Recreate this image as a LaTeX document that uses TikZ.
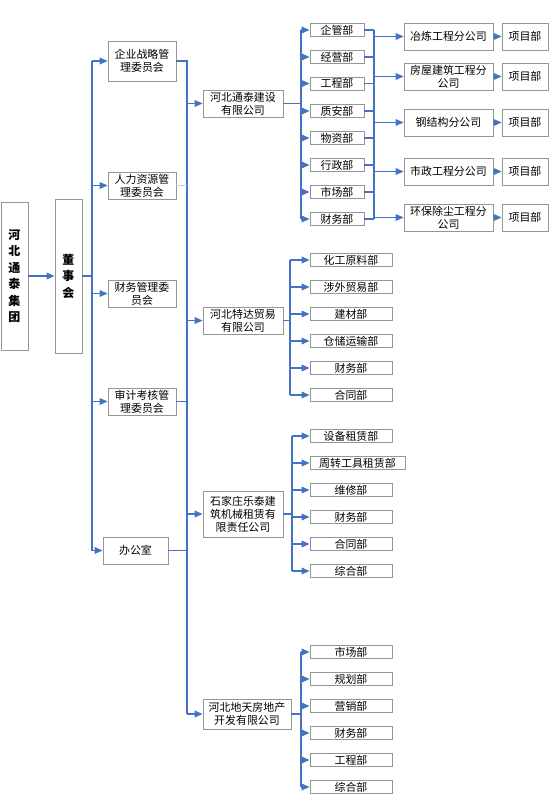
\documentclass[tikz,border=0pt]{standalone}
\usepackage{fontspec}
\setmainfont{Noto Sans CJK SC}
\usepackage{tikz}
\usetikzlibrary{calc, positioning, arrows.meta}
\usepackage{xcolor}
\definecolor{linkblue}{RGB}{68,114,196}
\definecolor{boxgrey}{RGB}{150,150,150}
\tikzset{
    orgbox/.style={draw=boxgrey, line width=0.6pt, fill=white, inner sep=0pt, align=center, font=\fontsize{8.2}{9.8}\selectfont},
    vertbox/.style={orgbox, minimum width=20.25pt, font=\fontsize{9}{12.4}\selectfont\bfseries},
    combox/.style={orgbox, minimum width=51pt, minimum height=20.25pt},
    compbox/.style={orgbox, minimum width=60pt, minimum height=20.25pt},
    subbox/.style={orgbox, minimum width=66.75pt, minimum height=20.25pt},
    projbox/.style={orgbox, minimum width=34.5pt, minimum height=20.25pt},
    deptbox/.style={orgbox, minimum width=61.5pt, minimum height=9.75pt},
    linkline/.style={draw=linkblue, line width=1pt},
    linkarrow/.style={linkline, -{Triangle[length=6pt,width=5pt]}},
    faintline/.style={draw=linkblue!35, line width=0.6pt}
}
\begin{document}
\begin{tikzpicture}[x=0.75pt,y=-0.75pt]
            \useasboundingbox (0,0) rectangle (554,804);
            % group and board
            \node[vertbox, minimum height=111pt] (grp) at (14.5,276) {河\\北\\通\\泰\\集\\团};
            \node[vertbox, minimum height=115.5pt] (board) at (68.5,276) {董\\事\\会};
            \draw[linkarrow] (grp) -- (board);
            % committees
            \node[combox, minimum height=30pt] (c1) at (142,61) {企业战略管\\理委员会};
            \node[combox] (c2) at (142,185.5) {人力资源管\\理委员会};
            \node[combox] (c3) at (142,293.5) {财务管理委\\员会};
            \node[combox] (c4) at (142,401.5) {审计考核管\\理委员会};
            \node[combox, minimum width=48.75pt] (c5) at (135.5,550.5) {办公室};
            \coordinate (j1) at (92,276);
            \draw[linkline] (board) -- (j1);
            \draw[linkline] (c1.west -| j1) -- (c5.west -| j1);
            \draw[linkarrow] (c1.west -| j1) -- (c1.west);
            \draw[linkarrow] (c2.west -| j1) -- (c2.west);
            \draw[linkarrow] (c3.west -| j1) -- (c3.west);
            \draw[linkarrow] (c4.west -| j1) -- (c4.west);
            \draw[linkarrow] (c5.west -| j1) -- (c5.west);
            % companies
            \node[compbox] (co1) at (243,103.5) {河北通泰建设\\有限公司};
            \node[compbox] (co2) at (243,320.5) {河北特达贸易\\有限公司};
            \node[compbox, minimum height=34.5pt] (co3) at (243,514) {石家庄乐泰建\\筑机械租赁有\\限责任公司};
            \node[compbox, minimum width=66pt, minimum height=22.5pt] (co4) at (247,714) {河北地天房地产\\开发有限公司};
            \coordinate (j2) at (187,0);
            \draw[linkline] (c1.east) -- (c1.east -| j2) -- (co4.west -| j2);
            \draw[faintline] (c2.east) -- (c2.east -| j2);
            \draw[linkline] (c4.east) -- (c4.east -| j2);
            \draw[linkline] (c5.east) -- (c5.east -| j2);
            \draw[linkarrow] (co1.west -| j2) -- (co1.west);
            \draw[linkarrow] (co2.west -| j2) -- (co2.west);
            \draw[linkarrow] (co3.west -| j2) -- (co3.west);
            \draw[linkarrow] (co4.west -| j2) -- (co4.west);
            % departments of co1
            \node[deptbox, minimum width=40.5pt] (a1) at (337,30) {企管部};
            \node[deptbox, minimum width=40.5pt] (a2) at (337,57) {经营部};
            \node[deptbox, minimum width=40.5pt] (a3) at (337,83.5) {工程部};
            \node[deptbox, minimum width=40.5pt] (a4) at (337,111) {质安部};
            \node[deptbox, minimum width=40.5pt] (a5) at (337,138) {物资部};
            \node[deptbox, minimum width=40.5pt] (a6) at (337,165) {行政部};
            \node[deptbox, minimum width=40.5pt] (a7) at (337,192) {市场部};
            \node[deptbox, minimum width=40.5pt] (a8) at (337,219) {财务部};
            \coordinate (j3) at (301,0);
            \draw[linkline] (co1.east) -- (co1.east -| j3);
            \draw[linkline] (a1.west -| j3) -- (a8.west -| j3);
            \draw[linkarrow] (a1.west -| j3) -- (a1.west);
            \draw[linkarrow] (a2.west -| j3) -- (a2.west);
            \draw[linkarrow] (a3.west -| j3) -- (a3.west);
            \draw[linkarrow] (a4.west -| j3) -- (a4.west);
            \draw[linkarrow] (a5.west -| j3) -- (a5.west);
            \draw[linkarrow] (a6.west -| j3) -- (a6.west);
            \draw[linkarrow] (a7.west -| j3) -- (a7.west);
            \draw[linkarrow] (a8.west -| j3) -- (a8.west);
            % branch companies and project departments
            \node[subbox] (s1) at (448.5,36.5) {冶炼工程分公司};
            \node[subbox] (s2) at (448.5,76.5) {房屋建筑工程分\\公司};
            \node[subbox] (s3) at (448.5,122.5) {钢结构分公司};
            \node[subbox] (s4) at (448.5,171.5) {市政工程分公司};
            \node[subbox] (s5) at (448.5,217.5) {环保除尘工程分\\公司};
            \node[projbox] (p1) at (525,36.5) {项目部};
            \node[projbox] (p2) at (525,76.5) {项目部};
            \node[projbox] (p3) at (525,122.5) {项目部};
            \node[projbox] (p4) at (525,171.5) {项目部};
            \node[projbox] (p5) at (525,217.5) {项目部};
            \coordinate (j4) at (374,0);
            \draw[linkline] (a1.east) -- (a1.east -| j4) (a2.east) -- (a2.east -| j4)
                (a3.east) -- (a3.east -| j4) (a4.east) -- (a4.east -| j4)
                (a5.east) -- (a5.east -| j4) (a6.east) -- (a6.east -| j4)
                (a7.east) -- (a7.east -| j4) (a8.east) -- (a8.east -| j4);
            \draw[linkline] (a1.east -| j4) -- (a8.east -| j4);
            \draw[linkarrow] (s1.west -| j4) -- (s1.west);
            \draw[linkarrow] (s2.west -| j4) -- (s2.west);
            \draw[linkarrow] (s3.west -| j4) -- (s3.west);
            \draw[linkarrow] (s4.west -| j4) -- (s4.west);
            \draw[linkarrow] (s5.west -| j4) -- (s5.west);
            \draw[linkarrow] (s1) -- (p1);
            \draw[linkarrow] (s2) -- (p2);
            \draw[linkarrow] (s3) -- (p3);
            \draw[linkarrow] (s4) -- (p4);
            \draw[linkarrow] (s5) -- (p5);
            % departments of co2
            \node[deptbox] (b1) at (351,260) {化工原料部};
            \node[deptbox] (b2) at (351,287) {涉外贸易部};
            \node[deptbox] (b3) at (351,314) {建材部};
            \node[deptbox] (b4) at (351,341) {仓储运输部};
            \node[deptbox] (b5) at (351,368) {财务部};
            \node[deptbox] (b6) at (351,395) {合同部};
            \coordinate (j5) at (290,0);
            \draw[linkline] (co2.east) -- (co2.east -| j5);
            \draw[linkline] (b1.west -| j5) -- (b6.west -| j5);
            \draw[linkarrow] (b1.west -| j5) -- (b1.west);
            \draw[linkarrow] (b2.west -| j5) -- (b2.west);
            \draw[linkarrow] (b3.west -| j5) -- (b3.west);
            \draw[linkarrow] (b4.west -| j5) -- (b4.west);
            \draw[linkarrow] (b5.west -| j5) -- (b5.west);
            \draw[linkarrow] (b6.west -| j5) -- (b6.west);
            % departments of co3
            \node[deptbox] (e1) at (351,436) {设备租赁部};
            \node[deptbox, minimum width=71.25pt] (e2) at (357.5,463) {周转工具租赁部};
            \node[deptbox] (e3) at (351,490) {维修部};
            \node[deptbox] (e4) at (351,517) {财务部};
            \node[deptbox] (e5) at (351,544) {合同部};
            \node[deptbox] (e6) at (351,571) {综合部};
            \coordinate (j6) at (292,0);
            \draw[linkline] (co3.east) -- (co3.east -| j6);
            \draw[linkline] (e1.west -| j6) -- (e6.west -| j6);
            \draw[linkarrow] (e1.west -| j6) -- (e1.west);
            \draw[linkarrow] (e2.west -| j6) -- (e2.west);
            \draw[linkarrow] (e3.west -| j6) -- (e3.west);
            \draw[linkarrow] (e4.west -| j6) -- (e4.west);
            \draw[linkarrow] (e5.west -| j6) -- (e5.west);
            \draw[linkarrow] (e6.west -| j6) -- (e6.west);
            % departments of co4
            \node[deptbox] (f1) at (351,652) {市场部};
            \node[deptbox] (f2) at (351,679) {规划部};
            \node[deptbox] (f3) at (351,706) {营销部};
            \node[deptbox] (f4) at (351,733) {财务部};
            \node[deptbox] (f5) at (351,760) {工程部};
            \node[deptbox] (f6) at (351,787) {综合部};
            \coordinate (j7) at (301,0);
            \draw[linkline] (co4.east) -- (co4.east -| j7);
            \draw[linkline] (f1.west -| j7) -- (f6.west -| j7);
            \draw[linkarrow] (f1.west -| j7) -- (f1.west);
            \draw[linkarrow] (f2.west -| j7) -- (f2.west);
            \draw[linkarrow] (f3.west -| j7) -- (f3.west);
            \draw[linkarrow] (f4.west -| j7) -- (f4.west);
            \draw[linkarrow] (f5.west -| j7) -- (f5.west);
            \draw[linkarrow] (f6.west -| j7) -- (f6.west);
        \end{tikzpicture}
\end{document}
